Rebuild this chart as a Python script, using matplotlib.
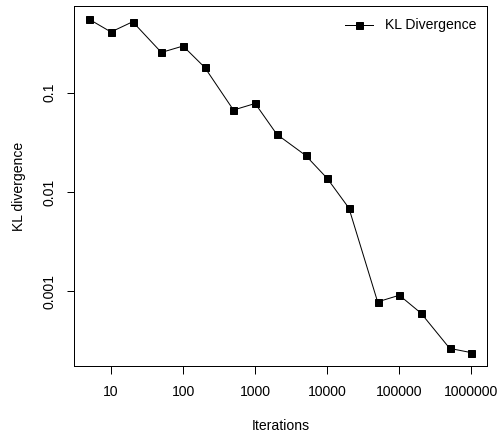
import numpy as np
import matplotlib
matplotlib.use("Agg")
import matplotlib.pyplot as plt

iterations = [5, 10, 20, 50, 100, 200, 500, 1000, 2000, 5000, 10000,
              20000, 50000, 100000, 200000, 500000, 1000000]
kl_div = [0.55, 0.41, 0.52, 0.255, 0.296, 0.18, 0.067, 0.078, 0.0381,
          0.0234, 0.0137, 0.00687, 0.00078, 0.00091, 0.0006, 0.000265, 0.00024]
x_ticks = [10, 100, 1000, 10000, 100000, 1000000]
x_tick_labels = ["10", "100", "1000", "10000", "100000", "1000000"]
y_ticks = [0.001, 0.01, 0.1]
y_tick_labels = ["0.001", "0.01", "0.1"]


def r_range(vals):
    # R style axis range: data range padded by 4% on log scale
    lo, hi = np.log10(min(vals)), np.log10(max(vals))
    ext = (hi - lo) * 0.04
    return 10 ** (lo - ext), 10 ** (hi + ext)


plt.rcParams["font.family"] = ["Liberation Sans", "DejaVu Sans"]
plt.rcParams["font.size"] = 14

fig = plt.figure(figsize=(498 / 72, 435 / 72), dpi=72)
ax = fig.add_axes([74 / 498, 69 / 435, (486.7 - 74) / 498, (366 - 6) / 435])

ax.plot(iterations, kl_div, "-s", color="black", lw=1, markersize=7,
        label="KL Divergence")

ax.set_xscale("log")
ax.set_yscale("log")
ax.set_xlim(*r_range(iterations))
ax.set_ylim(*r_range(kl_div))
ax.minorticks_off()
ax.set_xticks(x_ticks)
ax.set_xticklabels(x_tick_labels)
ax.set_yticks(y_ticks)
ax.set_yticklabels(y_tick_labels, rotation=90, va="center")

ax.tick_params(direction="out", length=7.5, width=1, colors="black")
ax.tick_params(axis="x", pad=12)
ax.tick_params(axis="y", pad=10)
for s in ax.spines.values():
    s.set_linewidth(1)

ax.set_xlabel("Iterations", labelpad=20)
ax.set_ylabel("KL divergence", labelpad=16)

ax.legend(loc="upper right", bbox_to_anchor=(1.0 - 2 / 412, 1.0 - 4 / 360),
          frameon=False, handlelength=2.0, handletextpad=0.85,
          borderaxespad=0.0, borderpad=0.6)

fig.savefig("out.png", dpi=72)
